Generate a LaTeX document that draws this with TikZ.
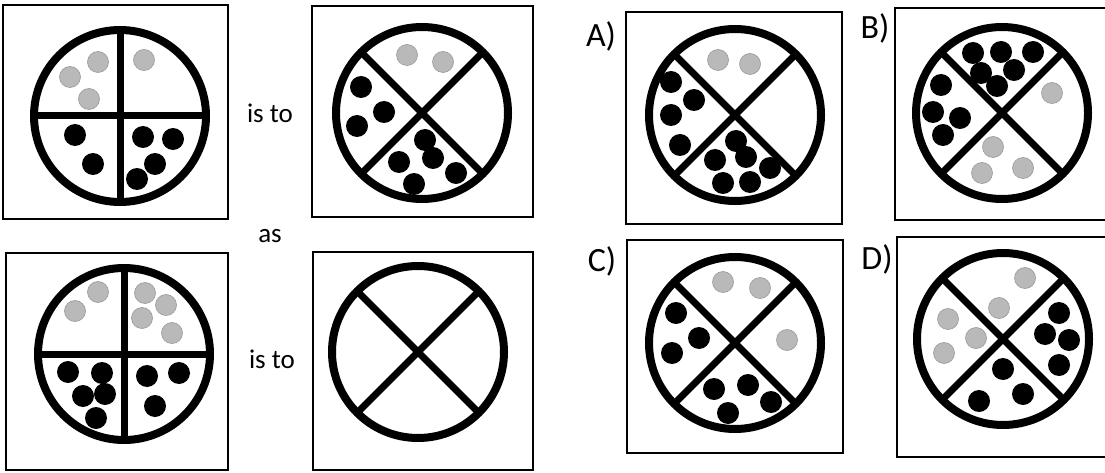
\documentclass[tikz,border=0pt]{standalone}
\usepackage{fontspec}
\setmainfont{Carlito}
\begin{document}
\begin{tikzpicture}[x=1pt,y=-1pt,
  frame/.style={draw=black,line width=2.6pt},
  ring/.style={draw=black,line width=8pt},
  bar/.style={draw=black,line width=7pt},
  bd/.style={fill=black},
  gd/.style={fill=gray!55,draw=gray!80,line width=0.6pt},
  word/.style={font=\fontsize{27}{27}\selectfont},
  lab/.style={font=\fontsize{34}{34}\selectfont}]
\useasboundingbox (0,0) rectangle (1105,473);
\clip (0,0) rectangle (1105,473);
\fill[white] (0,0) rectangle (1105,473);
% frames
\draw[frame] (3,5) rectangle (228,219);
\draw[frame] (312,6) rectangle (533,217);
\draw[frame] (6,253) rectangle (228,470);
\draw[frame] (313,252) rectangle (533,470);
\draw[frame] (626,12) rectangle (842,224);
\draw[frame] (895,8) rectangle (1115,220);
\draw[frame] (627,240) rectangle (843,453);
\draw[frame] (897,237) rectangle (1115,457);
% texts
\node[word] (t1) at (270,113) {is to};
\node[word] (t2) at (270,236) {as};
\node[word] (t3) at (272,359) {is to};
\node[lab] (la) at (601,36) {A)};
\node[lab] (lb) at (875,28) {B)};
\node[lab] (lc) at (602,261) {C)};
\node[lab] (ld) at (877,259) {D)};
% panel 1 (plus)
\draw[ring] (120,116) circle[radius=86pt];
\draw[bar] (120,30) -- (120,202);
\draw[bar] (34,116) -- (206,116);
\foreach \p in {(98,62),(70,77),(89,99),(144,60)} \fill[gd] \p circle[radius=10.5pt];
\foreach \p in {(75,135),(93,164),(143,137),(173,139),(155,164),(137,179)} \fill[bd] \p circle[radius=11pt];
% panel 2 (cross)
\draw[ring] (422,113) circle[radius=86pt];
\draw[bar] (422,113) ++(-60.8,-60.8) -- ++(121.6,121.6);
\draw[bar] (422,113) ++(60.8,-60.8) -- ++(-121.6,121.6);
\foreach \p in {(407,55),(443,62)} \fill[gd] \p circle[radius=10.5pt];
\foreach \p in {(361,87),(384,112),(357,126),(425,140),(433,158),(399,162),(456,173),(414,184)} \fill[bd] \p circle[radius=11pt];
% panel 3 (plus)
\draw[ring] (124,354) circle[radius=86pt];
\draw[bar] (124,268) -- (124,440);
\draw[bar] (38,354) -- (210,354);
\foreach \p in {(98,292),(75,311),(145,293),(166,305),(142,318),(172,333)} \fill[gd] \p circle[radius=10.5pt];
\foreach \p in {(68,372),(102,373),(83,396),(105,394),(96,418),(147,376),(179,373),(155,406)} \fill[bd] \p circle[radius=11pt];
% panel 4 (empty cross)
\draw[ring] (418,352) circle[radius=86pt];
\draw[bar] (418,352) ++(-60.8,-60.8) -- ++(121.6,121.6);
\draw[bar] (418,352) ++(60.8,-60.8) -- ++(-121.6,121.6);
% panel A
\draw[ring] (735,115) circle[radius=86pt];
\draw[bar] (735,115) ++(-60.8,-60.8) -- ++(121.6,121.6);
\draw[bar] (735,115) ++(60.8,-60.8) -- ++(-121.6,121.6);
\foreach \p in {(718,60),(750,64)} \fill[gd] \p circle[radius=10.5pt];
\foreach \p in {(671,82),(694,100),(671,115),(680,145),(736,141),(715,160),(746,157),(770,168),(723,183),(750,182)} \fill[bd] \p circle[radius=11pt];
% panel B
\draw[ring] (1002,113) circle[radius=86pt];
\draw[bar] (1002,113) ++(-60.8,-60.8) -- ++(121.6,121.6);
\draw[bar] (1002,113) ++(60.8,-60.8) -- ++(-121.6,121.6);
\foreach \p in {(1052,93),(993,147),(982,173),(1023,168)} \fill[gd] \p circle[radius=10.5pt];
\foreach \p in {(973,53),(1001,52),(1033,52),(981,73),(1014,70),(997,86),(941,85),(933,112),(960,118),(943,135)} \fill[bd] \p circle[radius=11pt];
% panel C
\draw[ring] (735,343) circle[radius=86pt];
\draw[bar] (735,343) ++(-60.8,-60.8) -- ++(121.6,121.6);
\draw[bar] (735,343) ++(60.8,-60.8) -- ++(-121.6,121.6);
\foreach \p in {(723,282),(760,288),(787,340)} \fill[gd] \p circle[radius=10.5pt];
\foreach \p in {(676,313),(699,338),(672,353),(714,389),(748,385),(771,402),(728,413)} \fill[bd] \p circle[radius=11pt];
% panel D
\draw[ring] (1003,339) circle[radius=86pt];
\draw[bar] (1003,339) ++(-60.8,-60.8) -- ++(121.6,121.6);
\draw[bar] (1003,339) ++(60.8,-60.8) -- ++(-121.6,121.6);
\foreach \p in {(1025,278),(999,308),(948,319),(976,338),(944,353)} \fill[gd] \p circle[radius=10.5pt];
\foreach \p in {(1059,313),(1045,334),(1069,340),(1059,365),(1003,369),(1023,394),(979,401)} \fill[bd] \p circle[radius=11pt];
\end{tikzpicture}
\end{document}
